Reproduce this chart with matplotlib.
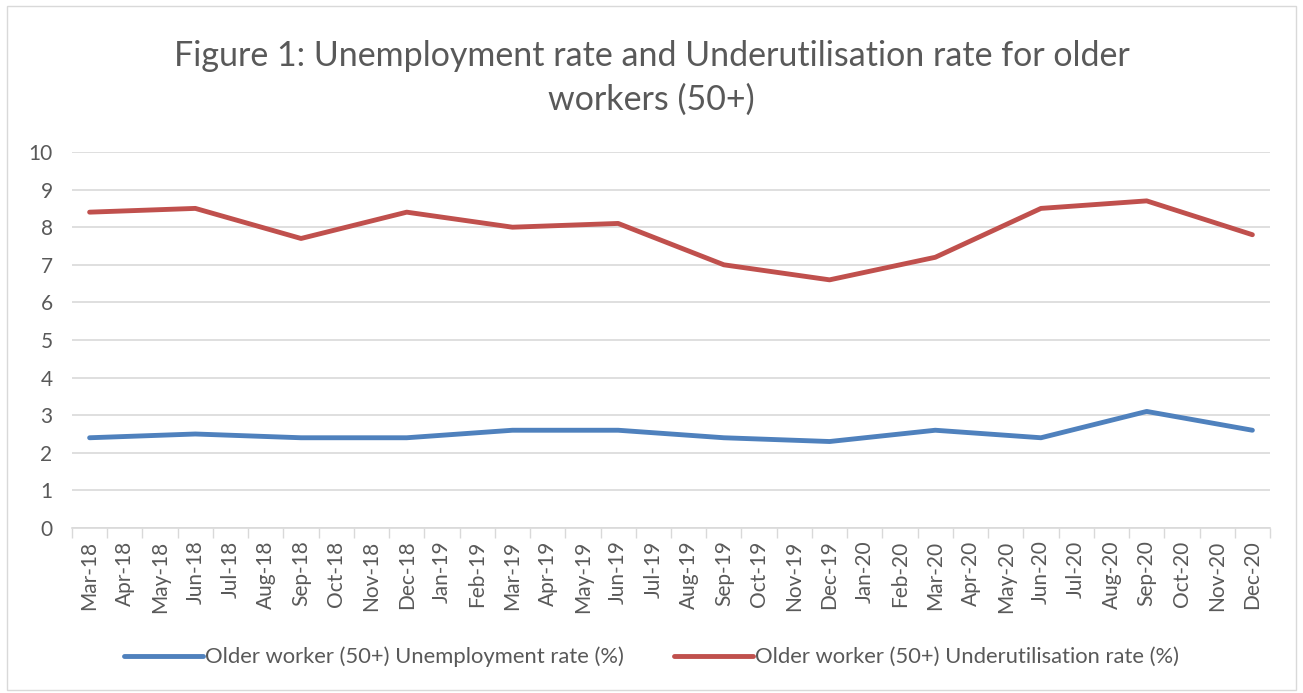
import matplotlib.pyplot as plt
from matplotlib.patches import Rectangle

months = ['Mar-18', 'Apr-18', 'May-18', 'Jun-18', 'Jul-18', 'Aug-18', 'Sep-18', 'Oct-18',
          'Nov-18', 'Dec-18', 'Jan-19', 'Feb-19', 'Mar-19', 'Apr-19', 'May-19', 'Jun-19',
          'Jul-19', 'Aug-19', 'Sep-19', 'Oct-19', 'Nov-19', 'Dec-19', 'Jan-20', 'Feb-20',
          'Mar-20', 'Apr-20', 'May-20', 'Jun-20', 'Jul-20', 'Aug-20', 'Sep-20', 'Oct-20',
          'Nov-20', 'Dec-20']

# quarterly observations
quarters = ['Mar-18', 'Jun-18', 'Sep-18', 'Dec-18', 'Mar-19', 'Jun-19', 'Sep-19', 'Dec-19',
            'Mar-20', 'Jun-20', 'Sep-20', 'Dec-20']
unemployment = [2.4, 2.5, 2.4, 2.4, 2.6, 2.6, 2.4, 2.3, 2.6, 2.4, 3.1, 2.6]
underutilisation = [8.4, 8.5, 7.7, 8.4, 8.0, 8.1, 7.0, 6.6, 7.2, 8.5, 8.7, 7.8]

plt.rcParams['font.family'] = ['Lato', 'DejaVu Sans']
txt = '#595959'

fig = plt.figure(figsize=(13.03, 6.93), dpi=100)
ax = fig.add_axes([72 / 1303, 165 / 693, 1198 / 1303, 376 / 693])

fig.patches.append(Rectangle((7 / 1303, 3 / 693), 1289 / 1303, 684 / 693,
                             transform=fig.transFigure, fill=False,
                             edgecolor='#d9d9d9', linewidth=1))

xq = [months.index(q) for q in quarters]
ax.plot(xq, unemployment, color='#4f81bd', linewidth=3.5, solid_capstyle='round',
        label='Older worker (50+) Unemployment rate (%)')
ax.plot(xq, underutilisation, color='#c0504d', linewidth=3.5, solid_capstyle='round',
        label='Older worker (50+) Underutilisation rate (%)')

ax.set_xlim(-0.5, len(months) - 0.5)
ax.set_ylim(0, 10)
ax.set_yticks(range(0, 11))
ax.set_xticks(range(len(months)))
ax.set_xticklabels(months, rotation=90)
ax.set_xticks([i - 0.5 for i in range(len(months) + 1)], minor=True)
ax.tick_params(axis='x', which='major', length=0, pad=9, labelsize=15, labelcolor=txt)
ax.tick_params(axis='x', which='minor', length=7, color='#d9d9d9', width=1)
ax.tick_params(axis='y', length=0, pad=14, labelsize=15, labelcolor=txt)

ax.grid(axis='y', color='#d9d9d9', linewidth=1.2)
ax.set_axisbelow(True)
for s in ['top', 'right', 'left']:
    ax.spines[s].set_visible(False)
ax.spines['bottom'].set_color('#d9d9d9')
ax.spines['bottom'].set_linewidth(1.2)

fig.text(0.5, 0.888, 'Figure 1: Unemployment rate and Underutilisation rate for older\nworkers (50+)',
         ha='center', va='center', fontsize=24.5, color=txt, linespacing=1.45)

fig.legend(loc='center', bbox_to_anchor=(0.5, 36 / 693), ncol=2, frameon=False,
           fontsize=15.8, labelcolor=txt, handlelength=3.6, handletextpad=0.1,
           columnspacing=2.3)

fig.savefig('out.png', dpi=100, facecolor='white')
